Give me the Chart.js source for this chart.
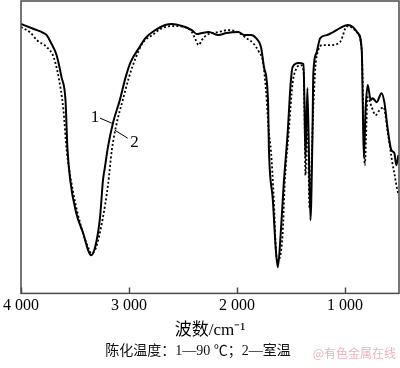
<!DOCTYPE html>
<html>
<head>
<meta charset="utf-8">
<script src="https://cdn.jsdelivr.net/npm/chart.js@4"></script>
<style>
  html, body { margin: 0; padding: 0; background: #fff; }
  #wrap { width: 400px; height: 368px; }
</style>
</head>
<body>
<div id="wrap"><canvas id="myChart"></canvas></div>
<script>
// wavenumber (cm-1) and relative transmittance (arbitrary units)
const wn1 = [4000, 3881, 3790, 3762, 3726, 3671, 3625, 3588, 3570, 3543, 3488, 3424, 3378, 3351, 3314, 3268, 3241, 3223, 3195, 3149, 3085, 3031, 2985, 2902, 2848, 2756, 2665, 2601, 2509, 2418, 2372, 2326, 2262, 2171, 2098, 1988, 1933, 1869, 1823, 1778, 1750, 1713, 1704, 1668, 1640, 1622, 1595, 1567, 1531, 1503, 1485, 1430, 1384, 1375, 1366, 1348, 1320, 1302, 1293, 1265, 1229, 1165, 1110, 1046, 973, 927, 881, 845, 836, 826, 808, 790, 762, 744, 707, 662, 634, 607, 570, 543, 525, 506];
const t1 = [269, 264, 260, 258, 251, 238, 216, 193, 145, 112, 80, 60, 43, 38, 46, 76, 113, 126, 146, 170, 193, 216, 231, 246, 255, 263, 268, 269, 267, 263, 259, 260, 261, 258, 260, 261, 258, 258, 255, 246, 226, 193, 143, 93, 43, 26, 60, 110, 160, 210, 226, 230, 229, 186, 136, 205, 73, 153, 220, 240, 255, 258, 261, 265, 268, 266, 260, 243, 193, 136, 186, 208, 193, 195, 191, 200, 190, 166, 143, 140, 128, 138];

const wn2 = [4000, 3909, 3854, 3762, 3698, 3652, 3607, 3579, 3515, 3442, 3378, 3351, 3305, 3241, 3195, 3159, 3122, 3058, 3000, 2939, 2875, 2784, 2692, 2601, 2482, 2418, 2390, 2354, 2326, 2281, 2171, 2079, 1979, 1915, 1851, 1796, 1759, 1732, 1704, 1686, 1659, 1640, 1622, 1577, 1558, 1522, 1485, 1457, 1412, 1384, 1375, 1366, 1348, 1329, 1293, 1274, 1247, 1202, 1138, 1046, 1018, 1000, 973, 890, 845, 826, 817, 790, 753, 717, 680, 643, 607, 561, 543, 515, 506];
const t2 = [266, 260, 253, 246, 236, 216, 183, 145, 100, 66, 46, 40, 46, 76, 108, 143, 166, 193, 216, 235, 250, 258, 265, 267, 266, 261, 255, 248, 253, 258, 261, 263, 260, 255, 250, 241, 231, 203, 160, 143, 93, 43, 33, 60, 110, 160, 210, 223, 228, 223, 183, 118, 188, 86, 186, 226, 243, 248, 248, 251, 258, 264, 267, 261, 243, 160, 128, 196, 186, 178, 183, 186, 163, 130, 120, 103, 100];

const xTicks = [4000, 3000, 2000, 1000];

const serif = '"Liberation Serif", "Noto Sans CJK SC", serif';

function toPoints(xs, ys) {
    return xs.map((x, i) => ({ x: x, y: ys[i] }));
}

// frame, inward ticks, curve labels, caption
const decor = {
    id: 'decor',
    afterDraw(chart) {
        const ctx = chart.ctx;
        const a = chart.chartArea;
        const x = chart.scales.x, y = chart.scales.y;
        ctx.save();
        ctx.strokeStyle = '#4a4a4a';
        ctx.lineWidth = 1.5;
        ctx.strokeRect(a.left, a.top, a.right - a.left, a.bottom - a.top);
        ctx.beginPath();
        xTicks.forEach(v => {
            const px = Math.round(x.getPixelForValue(v)) + 0.5;
            ctx.moveTo(px, a.bottom);
            ctx.lineTo(px, a.bottom - 6);
        });
        ctx.stroke();

        // leader lines for the curve numbers
        ctx.strokeStyle = '#000';
        ctx.lineWidth = 1;
        ctx.beginPath();
        ctx.moveTo(x.getPixelForValue(3268), y.getPixelForValue(175));
        ctx.lineTo(x.getPixelForValue(3159), y.getPixelForValue(170));
        ctx.moveTo(x.getPixelForValue(3131), y.getPixelForValue(163));
        ctx.lineTo(x.getPixelForValue(3012), y.getPixelForValue(155));
        ctx.stroke();

        ctx.fillStyle = '#000';
        ctx.font = '17px ' + serif;
        ctx.textAlign = 'center';
        ctx.textBaseline = 'middle';
        ctx.fillText('1', x.getPixelForValue(3314), y.getPixelForValue(176));
        ctx.fillText('2', x.getPixelForValue(2948), y.getPixelForValue(151));

        ctx.font = '14px ' + serif;
        ctx.fillStyle = '#111';
        ctx.fillText('陈化温度：1—90 ℃；2—室温', 198, 351);

        ctx.font = '12px "Noto Sans CJK SC", sans-serif';
        ctx.fillStyle = '#eab5ba';
        ctx.textAlign = 'right';
        ctx.fillText('@有色金属在线', 396, 353);
        ctx.restore();
    }
};

const ctx = document.getElementById('myChart').getContext('2d');
new Chart(ctx, {
    type: 'line',
    data: {
        datasets: [
            {
                label: '1',
                data: toPoints(wn1, t1),
                borderColor: '#000',
                borderWidth: 2,
                pointRadius: 0,
                cubicInterpolationMode: 'monotone',
                fill: false
            },
            {
                label: '2',
                data: toPoints(wn2, t2),
                borderColor: '#000',
                borderWidth: 1.8,
                borderDash: [2, 2.2],
                pointRadius: 0,
                cubicInterpolationMode: 'monotone',
                fill: false
            }
        ]
    },
    options: {
        responsive: true,
        maintainAspectRatio: false,
        animation: false,
        layout: { padding: { left: 17, right: 1, top: 1, bottom: 27 } },
        plugins: { legend: { display: false }, tooltip: { enabled: false } },
        scales: {
            x: {
                type: 'linear',
                reverse: true,
                min: 500,
                max: 4000,
                afterBuildTicks: scale => { scale.ticks = xTicks.map(v => ({ value: v })); },
                grid: { display: false, drawTicks: false },
                border: { display: false },
                ticks: {
                    padding: 3,
                    color: '#000',
                    maxRotation: 0,
                    font: { family: serif, size: 16 },
                    callback: v => String(v).replace(/(\d)(\d{3})$/, '$1 $2')
                },
                title: {
                    display: true,
                    text: '波数/cm⁻¹',
                    color: '#000',
                    padding: { top: 2, bottom: 0 },
                    font: { family: serif, size: 17 }
                }
            },
            y: {
                display: false,
                min: 0,
                max: 292
            }
        }
    },
    plugins: [decor]
});
</script>
</body>
</html>
